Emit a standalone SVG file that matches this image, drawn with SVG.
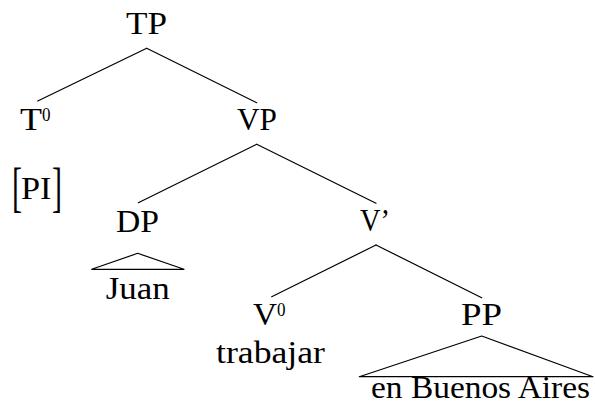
<svg xmlns="http://www.w3.org/2000/svg" width="595" height="411" viewBox="0 0 595 411">
<style>
text{font-family:"Liberation Serif","Times New Roman",serif;fill:#000;font-size:31px}
.sup{font-size:19px}
.br{font-size:30px}
.e line,.e polygon{stroke:#000;stroke-width:1.2;fill:none;stroke-linecap:round;stroke-linejoin:round}
</style>
<rect width="595" height="411" fill="#fff"/>
<g class="e" id="connectors">
<line x1="146.7" y1="48.3" x2="37.7" y2="101"/>
<line x1="146.7" y1="48.3" x2="256.7" y2="102.7"/>
<line x1="256.7" y1="144.3" x2="138.3" y2="202.7"/>
<line x1="256.7" y1="144.3" x2="376" y2="203.3"/>
<line x1="376" y1="245" x2="271.7" y2="296.7"/>
<line x1="376" y1="245" x2="481.7" y2="297.7"/>
<polygon points="137.7,253.3 91.7,269.3 184,269.3"/>
<polygon points="481.7,336 359.3,376.7 593,376.7"/>
</g>
<g id="TP"><text x="126" y="34" textLength="41" lengthAdjust="spacingAndGlyphs">TP</text></g>
<g id="T0"><text x="20" y="129.5" textLength="22" lengthAdjust="spacingAndGlyphs">T</text><text class="sup" x="42" y="121" textLength="8.5" lengthAdjust="spacingAndGlyphs">0</text></g>
<g id="PI">
<text class="br" transform="translate(12,206) scale(1,1.85)">[</text>
<text x="21" y="199" textLength="30.5" lengthAdjust="spacingAndGlyphs">PI</text>
<text class="br" transform="translate(52,206) scale(1,1.85)">]</text>
</g>
<g id="VP"><text x="237" y="130" textLength="40" lengthAdjust="spacingAndGlyphs">VP</text></g>
<g id="DP"><text x="116" y="231.7" textLength="43" lengthAdjust="spacingAndGlyphs">DP</text></g>
<g id="Vbar"><text x="360" y="231" textLength="30" lengthAdjust="spacingAndGlyphs">V’</text></g>
<g id="Juan"><text x="105.7" y="299.3" textLength="64" lengthAdjust="spacingAndGlyphs">Juan</text></g>
<g id="V0"><text x="253" y="325" textLength="24" lengthAdjust="spacingAndGlyphs">V</text><text class="sup" x="277" y="316" textLength="8.5" lengthAdjust="spacingAndGlyphs">0</text></g>
<g id="trabajar"><text x="216" y="362.7" textLength="109" lengthAdjust="spacingAndGlyphs">trabajar</text></g>
<g id="PP"><text x="461" y="325" textLength="41" lengthAdjust="spacingAndGlyphs">PP</text></g>
<g id="enBA"><text x="371" y="398" textLength="219" lengthAdjust="spacingAndGlyphs">en Buenos Aires</text></g>
</svg>
